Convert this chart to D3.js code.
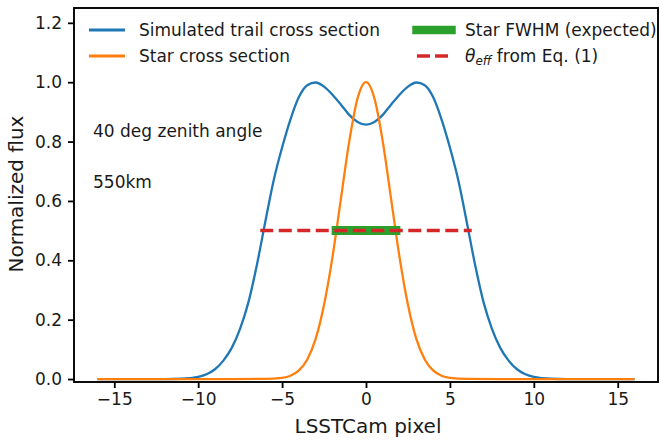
<!DOCTYPE html>
<html><head><meta charset="utf-8">
<script src="https://cdn.jsdelivr.net/npm/d3@7"></script>
<style>body{margin:0;background:#fff}svg{display:block}text{font-family:"DejaVu Sans",sans-serif;fill:#1a1a1a}</style>
</head><body><div id="chart"></div>
<script>
// Simulated trail cross section
const trailX = [-16,-12,-11,-10.5,-10,-9.5,-9,-8.5,-8,-7.5,-7,-6.5,-6,-5.5,-5,-4.5,-4,-3.5,-3,-2.5,-2,-1.5,-1,-0.5,0,0.5,1,1.5,2,2.5,3,3.5,4,4.5,5,5.5,6,6.5,7,7.5,8,8.5,9,9.5,10,10.5,11,12,16];
const trailY = [0,0,0.001,0.003,0.007,0.016,0.033,0.062,0.105,0.17,0.26,0.385,0.53,0.67,0.78,0.875,0.95,0.99,0.999,0.985,0.958,0.925,0.89,0.866,0.857,0.866,0.89,0.925,0.958,0.985,0.999,0.99,0.95,0.875,0.78,0.67,0.53,0.385,0.26,0.17,0.105,0.062,0.033,0.016,0.007,0.003,0.001,0,0];
// Star cross section
const starX = [-16,-8,-6,-5,-4.5,-4,-3.5,-3,-2.5,-2,-1.5,-1,-0.5,0,0.5,1,1.5,2,2.5,3,3.5,4,4.5,5,6,8,16];
const starY = [0,0,0.0003,0.004,0.011,0.029,0.066,0.135,0.25,0.41,0.605,0.80,0.946,1.0,0.946,0.80,0.605,0.41,0.25,0.135,0.066,0.029,0.011,0.004,0.0003,0,0];
// Star FWHM (expected) and theta_eff segments at half maximum
const fwhmX = [-1.78, 1.78];
const thetaX = [-6.3, 6.3];
const halfLevel = 0.5;
const xTicks = [-15,-10,-5,0,5,10,15];
const yTicks = [0.0,0.2,0.4,0.6,0.8,1.0,1.2];
const legendLabels = ["Simulated trail cross section","Star cross section","Star FWHM (expected)","θeff from Eq. (1)"];
const annotations = ["40 deg zenith angle","550km"];

const W=660,H=441;
const m={l:74,r:2,t:8,b:59};
const svg=d3.select("#chart").append("svg").attr("width",W).attr("height",H);
const x=d3.scaleLinear().domain([-17.4,17.4]).range([m.l,W-m.r]);
const y=d3.scaleLinear().domain([-0.01,1.25]).range([H-m.b,m.t]);
const C={blue:"#1f77b4",orange:"#ff7f0e",green:"#2ca02c",red:"#d62728"};
const FS=17;

const g=svg.append("g");
const line=d3.line().x(d=>x(d[0])).y(d=>y(d[1])).curve(d3.curveMonotoneX);
g.append("path").datum(d3.zip(trailX,trailY)).attr("d",line).attr("fill","none").attr("stroke",C.blue).attr("stroke-width",2.3);
g.append("path").datum(d3.zip(starX,starY)).attr("d",line).attr("fill","none").attr("stroke",C.orange).attr("stroke-width",2.3);
g.append("line").attr("x1",x(fwhmX[0])).attr("x2",x(fwhmX[1])).attr("y1",y(halfLevel)).attr("y2",y(halfLevel))
 .attr("stroke",C.green).attr("stroke-width",9).attr("stroke-linecap","square");
g.append("line").attr("x1",x(thetaX[0])).attr("x2",x(thetaX[1])).attr("y1",y(halfLevel)).attr("y2",y(halfLevel))
 .attr("stroke",C.red).attr("stroke-width",3.5).attr("stroke-dasharray","13,5.5");

// axes
const ax=svg.append("g").attr("transform",`translate(0,${H-m.b})`).call(d3.axisBottom(x).tickValues(xTicks).tickFormat(d=>d<0?"\u2212"+Math.abs(d):d).tickSize(6).tickPadding(5));
const ay=svg.append("g").attr("transform",`translate(${m.l},0)`).call(d3.axisLeft(y).tickValues(yTicks).tickFormat(d3.format(".1f")).tickSize(6).tickPadding(6));
[ax,ay].forEach(a=>{a.select(".domain").remove();a.selectAll("line").attr("stroke","#000").attr("stroke-width",1.8);a.selectAll("text").attr("font-size",FS).attr("font-family","DejaVu Sans").attr("fill","#1a1a1a");});
svg.append("rect").attr("x",m.l).attr("y",m.t).attr("width",W-m.r-m.l).attr("height",H-m.b-m.t).attr("fill","none").attr("stroke","#000").attr("stroke-width",1.9);

svg.append("text").attr("x",368).attr("y",433).attr("text-anchor","middle").attr("font-size",20).text("LSSTCam pixel");
svg.append("text").attr("transform",`translate(23,194) rotate(-90)`).attr("text-anchor","middle").attr("font-size",20).text("Normalized flux");

svg.append("text").attr("x",93).attr("y",137).attr("font-size",FS).text(annotations[0]);
svg.append("text").attr("x",93).attr("y",188).attr("font-size",FS).text(annotations[1]);

// legend
const lg=svg.append("g");
const rows=[{y:30,c:C.blue,t:legendLabels[0]},{y:56,c:C.orange,t:legendLabels[1]}];
rows.forEach(r=>{lg.append("line").attr("x1",89).attr("x2",125).attr("y1",r.y).attr("y2",r.y).attr("stroke",r.c).attr("stroke-width",3);
 lg.append("text").attr("x",139).attr("y",r.y+6).attr("font-size",FS).text(r.t);});
lg.append("line").attr("x1",416.5).attr("x2",451.5).attr("y1",30).attr("y2",30).attr("stroke",C.green).attr("stroke-width",8.5).attr("stroke-linecap","square");
lg.append("text").attr("x",465).attr("y",36).attr("font-size",FS).text(legendLabels[2]);
lg.append("line").attr("x1",417).attr("x2",452).attr("y1",56).attr("y2",56).attr("stroke",C.red).attr("stroke-width",3.5).attr("stroke-dasharray","13,5");
const tt=lg.append("text").attr("x",465).attr("y",62).attr("font-size",FS);
tt.append("tspan").attr("font-style","italic").text("θ");
tt.append("tspan").attr("font-style","italic").attr("font-size",12).attr("dy",3).text("eff");
tt.append("tspan").attr("dy",-3).text(" from Eq. (1)");
</script></body></html>
